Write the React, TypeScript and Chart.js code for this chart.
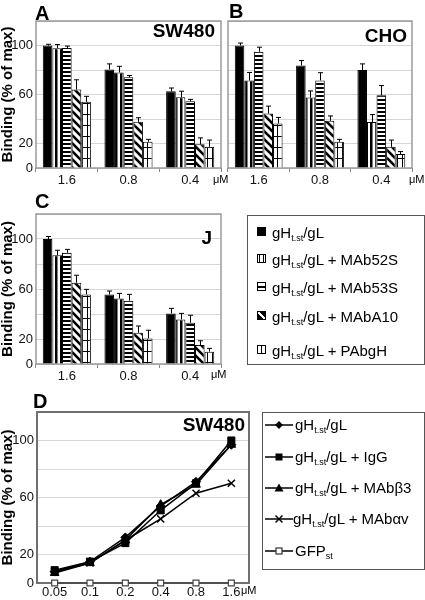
import React, { useEffect, useRef } from 'react';
import { Chart, registerables } from 'chart.js';

Chart.register(...registerables);

const FONT = "'Liberation Sans', Arial, Helvetica, sans-serif";
Chart.defaults.font.family = FONT;

// ---------- data ----------
const BAR_LABELS = ['1.6', '0.8', '0.4'];
const LINE_LABELS = ['0.05', '0.1', '0.2', '0.4', '0.8', '1.6'];
const Y_TICK_LABELS = [0, 20, 60, 100];

// Panel A – SW480
const A_GHGL = [100, 80.5, 62.6];
const A_MAB52S = [97.8, 78, 57.7];
const A_MAB53S = [98, 74, 54.5];
const A_MABA10 = [64, 37.7, 19.3];
const A_PABGH = [54, 21.4, 17.3];
const A_GHGL_ERR = [1, 4.5, 2.7];
const A_MAB52S_ERR = [3, 5, 5];
const A_MAB53S_ERR = [1.5, 1.5, 1.5];
const A_MABA10_ERR = [8, 3.3, 5.3];
const A_PABGH_ERR = [4.5, 2, 5.5];

// Panel B – CHO
const B_GHGL = [100, 83.7, 80];
const B_MAB52S = [71.5, 57.5, 37.6];
const B_MAB53S = [95, 71.5, 59.3];
const B_MABA10 = [44.5, 38.5, 17.3];
const B_PABGH = [36.3, 21.4, 11.4];
const B_GHGL_ERR = [2, 4, 5];
const B_MAB52S_ERR = [6.5, 5.4, 6];
const B_MAB53S_ERR = [3.6, 6.3, 8];
const B_MABA10_ERR = [6, 4, 5.5];
const B_PABGH_ERR = [5, 2, 2];

// Panel C – J
const C_GHGL = [100, 55.7, 40.5];
const C_MAB52S = [87, 52.5, 35.7];
const C_MAB53S = [89, 50.7, 33];
const C_MABA10 = [65, 25, 15.2];
const C_PABGH = [55.7, 20.5, 9.9];
const C_GHGL_ERR = [2, 2.7, 4];
const C_MAB52S_ERR = [4, 4, 4.8];
const C_MAB53S_ERR = [2.7, 5, 6];
const C_MABA10_ERR = [6, 5.4, 3.4];
const C_PABGH_ERR = [4, 6.5, 2.6];

// Panel D – SW480 dose response
const D_GHGL = [8, 15, 32, 54, 71, 97];
const D_IGG = [9, 15, 28, 51, 70, 100];
const D_MABB3 = [7, 14, 30, 55, 69, 97];
const D_MABAV = [8, 14, 30, 45, 63, 70];
const D_GFP = [0, 0, 0, 0, 0, 0];

const BAR_SUFFIX = ['', ' + MAb52S', ' + MAb53S', ' + MAbA10', ' + PAbgH'];
const BAR_KINDS = ['solid', 'vert', 'horiz', 'diag', 'grid'];
const LINE_SUFFIX = ['', ' + IgG', ' + MAbβ3', ' + MAbαv'];

// ---------- patterns ----------
function makePattern(kind: string): any {
  if (kind === 'solid') return '#000';
  const c = document.createElement('canvas');
  const x = c.getContext('2d')!;
  if (kind === 'vert') {
    c.width = 5; c.height = 5;
    x.fillStyle = '#fff'; x.fillRect(0, 0, 5, 5);
    x.fillStyle = '#000'; x.fillRect(0, 0, 2.5, 5);
  } else if (kind === 'horiz') {
    c.width = 4; c.height = 4;
    x.fillStyle = '#fff'; x.fillRect(0, 0, 4, 4);
    x.fillStyle = '#000'; x.fillRect(0, 0, 4, 2);
  } else if (kind === 'diag') {
    c.width = 8; c.height = 8;
    x.fillStyle = '#fff'; x.fillRect(0, 0, 8, 8);
    x.strokeStyle = '#000'; x.lineWidth = 2.6;
    for (let i = -1; i <= 1; i++) {
      x.beginPath(); x.moveTo(i * 8 - 1, -1); x.lineTo(i * 8 + 9, 9); x.stroke();
    }
  } else if (kind === 'grid') {
    c.width = 5; c.height = 11;
    x.fillStyle = '#fff'; x.fillRect(0, 0, 5, 11);
    x.fillStyle = '#000'; x.fillRect(2, 0, 1, 11); x.fillRect(0, 0, 5, 1);
  }
  return x.createPattern(c, 'repeat');
}

// ---------- plugins ----------
const framePlugin = {
  id: 'frame',
  beforeDatasetsDraw(chart: any, _a: any, opts: any) {
    const { left, top, right, bottom } = chart.chartArea;
    const ctx = chart.ctx;
    ctx.save();
    ctx.strokeStyle = opts.color || '#888';
    ctx.lineWidth = opts.width || 1.3;
    ctx.strokeRect(left, top, right - left, bottom - top);
    ctx.restore();
  },
};

const errorBarPlugin = {
  id: 'errorBars',
  afterDatasetsDraw(chart: any, _a: any, opts: any) {
    const errs = opts.errors;
    if (!errs) return;
    const ctx = chart.ctx;
    const ys = chart.scales.y;
    ctx.save();
    ctx.strokeStyle = '#000';
    ctx.lineWidth = 1;
    chart.data.datasets.forEach((ds: any, di: number) => {
      const meta = chart.getDatasetMeta(di);
      meta.data.forEach((bar: any, i: number) => {
        const e = errs[di][i];
        const top = ys.getPixelForValue(ds.data[i] + e);
        const x = Math.round(bar.x) + 0.5;
        ctx.beginPath();
        ctx.moveTo(x, bar.y);
        ctx.lineTo(x, top);
        ctx.moveTo(x - 2.5, top);
        ctx.lineTo(x + 2.5, top);
        ctx.stroke();
      });
    });
    ctx.restore();
  },
};

const tickFont = { size: 13, family: FONT };
const yTitle = {
  display: true,
  text: 'Binding (% of max)',
  font: { size: 15, weight: 'bold' as const, family: FONT, lineHeight: 1 },
  color: '#000',
  padding: 0,
};

const fixY = (w: number) => (s: any) => {
  s.width = w;
  s.paddingTop = 0;
  s.paddingBottom = 0;
};
const fixX = (h: number) => (s: any) => {
  s.height = h;
  s.paddingLeft = 0;
  s.paddingRight = 0;
};

function barConfig(series: number[][], errors: number[][], opts: { yw: number; xh: number; top: number; right: number; showY: boolean }) {
  return {
    type: 'bar' as const,
    data: {
      labels: BAR_LABELS,
      datasets: series.map((d, i) => ({
        label: 'gHt.st/gL' + BAR_SUFFIX[i],
        data: d,
        backgroundColor: makePattern(BAR_KINDS[i]),
        borderColor: '#000',
        borderWidth: 1,
        categoryPercentage: 0.78,
        barPercentage: 1,
      })),
    },
    options: {
      responsive: false,
      animation: false as const,
      layout: { padding: { top: opts.top, right: opts.right, left: 0, bottom: 0 } },
      plugins: {
        legend: { display: false },
        tooltip: { enabled: false },
        errorBars: { errors },
        frame: { color: '#8c8c8c', width: 1.3 },
      },
      scales: {
        x: {
          grid: { display: true, drawOnChartArea: false, tickLength: 4, offset: true, color: '#888' },
          border: { display: false },
          ticks: { font: tickFont, color: '#111', padding: 1 },
          afterFit: fixX(opts.xh),
        },
        y: {
          min: 0,
          max: 120,
          ticks: {
            display: opts.showY,
            stepSize: 20,
            font: tickFont,
            color: '#111',
            padding: 3,
            callback: (v: any) => (Y_TICK_LABELS.includes(v) ? String(v) : ''),
          },
          grid: { color: '#d6d6d6', tickLength: 0 },
          border: { display: false },
          title: opts.showY ? yTitle : { display: false },
          afterFit: fixY(opts.yw),
        },
      },
    },
    plugins: [framePlugin, errorBarPlugin],
  };
}

function lineConfig() {
  const mk = (label: string, data: number[], style: string, radius: number, fill: string, color: string, bw: number) => ({
    label,
    data,
    borderColor: color,
    backgroundColor: fill,
    pointBackgroundColor: fill,
    pointBorderColor: color,
    pointStyle: style,
    pointRadius: radius,
    pointBorderWidth: bw,
    borderWidth: 1.5,
    tension: 0,
    clip: false as const,
  });
  return {
    type: 'line' as const,
    data: {
      labels: LINE_LABELS,
      datasets: [
        mk('gHt.st/gL' + LINE_SUFFIX[0], D_GHGL, 'rectRot', 4.5, '#000', '#000', 1),
        mk('gHt.st/gL' + LINE_SUFFIX[1], D_IGG, 'rect', 5, '#000', '#000', 1),
        mk('gHt.st/gL' + LINE_SUFFIX[2], D_MABB3, 'triangle', 5, '#000', '#000', 1),
        mk('gHt.st/gL' + LINE_SUFFIX[3], D_MABAV, 'crossRot', 5, '#000', '#000', 1.5),
        mk('GFPst', D_GFP, 'rect', 4.2, '#fff', '#444', 1.2),
      ],
    },
    options: {
      responsive: false,
      animation: false as const,
      layout: { padding: { top: 7, right: 11, left: 0, bottom: 0 } },
      plugins: {
        legend: { display: false },
        tooltip: { enabled: false },
        frame: { color: '#707070', width: 2 },
      },
      scales: {
        x: {
          offset: true,
          grid: { display: false, drawTicks: false, tickLength: 0 },
          border: { display: false },
          ticks: { font: tickFont, color: '#111', padding: 2 },
          afterFit: fixX(17),
        },
        y: {
          min: 0,
          max: 120,
          ticks: {
            stepSize: 20,
            font: tickFont,
            color: '#111',
            padding: 3,
            callback: (v: any) => (Y_TICK_LABELS.includes(v) ? String(v) : ''),
          },
          grid: { color: '#d6d6d6', tickLength: 0 },
          border: { display: false },
          title: yTitle,
          afterFit: fixY(37),
        },
      },
    },
    plugins: [framePlugin],
  };
}

// ---------- components ----------
function ChartCanvas({ left, top, width, height, make }: { left: number; top: number; width: number; height: number; make: () => any }) {
  const ref = useRef<HTMLCanvasElement>(null);
  useEffect(() => {
    const chart = new Chart(ref.current!, make());
    return () => chart.destroy();
  }, []);
  return (
    <canvas
      ref={ref}
      width={width}
      height={height}
      style={{ position: 'absolute', left, top, width, height }}
    />
  );
}

function Txt({ left, top, right, size, bold, children }: any) {
  return (
    <div
      style={{
        position: 'absolute',
        left,
        top,
        right,
        fontSize: size,
        fontWeight: bold ? 'bold' : 'normal',
        lineHeight: 1,
        whiteSpace: 'nowrap',
        color: '#000',
      }}
    >
      {children}
    </div>
  );
}

const subStyle: React.CSSProperties = { fontSize: 9, verticalAlign: -3, lineHeight: 0 };

function swatchStyle(kind: string): React.CSSProperties {
  const base: React.CSSProperties = {
    position: 'absolute',
    width: 7,
    height: 7,
    border: '1px solid #000',
    background: '#fff',
  };
  if (kind === 'solid') base.background = '#000';
  if (kind === 'vert') base.background = 'repeating-linear-gradient(90deg, #fff 0 1px, #000 1px 2.5px, #fff 2.5px 3.5px)';
  if (kind === 'horiz') base.background = 'linear-gradient(180deg, #fff 0 3px, #000 3px 4.5px, #fff 4.5px 7px)';
  if (kind === 'diag') base.background = 'linear-gradient(45deg, #000 0 40%, #fff 40% 60%, #000 60% 100%)';
  if (kind === 'grid') base.background = 'linear-gradient(90deg, #fff 0 3px, #000 3px 4px, #fff 4px 7px)';
  return base;
}

const LEG_C_ROWS = [233, 260, 288, 317, 351];
const LEG_D_ROWS = [425, 457, 488, 519, 551];

function LineSymbol({ kind }: { kind: number }) {
  let marker: any = null;
  if (kind === 0) marker = <polygon points="15,2 19,6 15,10 11,6" fill="#000" />;
  if (kind === 1) marker = <rect x="11.5" y="2.5" width="7" height="7" fill="#000" />;
  if (kind === 2) marker = <polygon points="15,1.5 19.5,9.5 10.5,9.5" fill="#000" />;
  if (kind === 3)
    marker = (
      <g stroke="#000" strokeWidth="1.4">
        <line x1="11.5" y1="2.5" x2="18.5" y2="9.5" />
        <line x1="18.5" y1="2.5" x2="11.5" y2="9.5" />
      </g>
    );
  if (kind === 4) marker = <rect x="12" y="3" width="6" height="6" fill="#fff" stroke="#333" strokeWidth="1.2" />;
  return (
    <svg width="30" height="12" style={{ position: 'absolute', left: 0, top: -6 }}>
      <line x1="1" y1="6" x2="29" y2="6" stroke="#000" strokeWidth="1.5" />
      {marker}
    </svg>
  );
}

export default function App() {
  const aSeries = [A_GHGL, A_MAB52S, A_MAB53S, A_MABA10, A_PABGH];
  const aErr = [A_GHGL_ERR, A_MAB52S_ERR, A_MAB53S_ERR, A_MABA10_ERR, A_PABGH_ERR];
  const bSeries = [B_GHGL, B_MAB52S, B_MAB53S, B_MABA10, B_PABGH];
  const bErr = [B_GHGL_ERR, B_MAB52S_ERR, B_MAB53S_ERR, B_MABA10_ERR, B_PABGH_ERR];
  const cSeries = [C_GHGL, C_MAB52S, C_MAB53S, C_MABA10, C_PABGH];
  const cErr = [C_GHGL_ERR, C_MAB52S_ERR, C_MAB53S_ERR, C_MABA10_ERR, C_PABGH_ERR];

  return (
    <div
      style={{
        position: 'absolute',
        left: 0,
        top: 0,
        width: 425,
        height: 600,
        overflow: 'hidden',
        background: '#fff',
        fontFamily: FONT,
      }}
    >
      <ChartCanvas left={0} top={15} width={230} height={180}
        make={() => barConfig(aSeries, aErr, { yw: 36, xh: 27, top: 6, right: 9, showY: true })} />
      <ChartCanvas left={220} top={15} width={205} height={180}
        make={() => barConfig(bSeries, bErr, { yw: 8, xh: 27, top: 6, right: 13, showY: false })} />
      <ChartCanvas left={0} top={208} width={230} height={182}
        make={() => barConfig(cSeries, cErr, { yw: 36, xh: 26, top: 6, right: 9, showY: true })} />
      <ChartCanvas left={0} top={405} width={260} height={195} make={lineConfig} />

      {/* panel letters */}
      <Txt left={35} top={2.5} size={20} bold>A</Txt>
      <Txt left={229} top={0.5} size={20} bold>B</Txt>
      <Txt left={35} top={190.5} size={20} bold>C</Txt>
      <Txt left={33} top={390.5} size={20} bold>D</Txt>

      {/* in-plot titles */}
      <Txt right={425 - 215} top={20.5} size={19} bold>SW480</Txt>
      <Txt right={425 - 407} top={25.5} size={19} bold>CHO</Txt>
      <Txt right={425 - 212} top={227.5} size={19} bold>J</Txt>
      <Txt right={425 - 245} top={414.5} size={19} bold>SW480</Txt>

      {/* units */}
      <Txt left={213} top={174} size={11}>μM</Txt>
      <Txt left={409} top={174} size={11}>μM</Txt>
      <Txt left={211} top={369} size={11}>μM</Txt>
      <Txt left={241} top={585} size={11}>μM</Txt>

      {/* legend for A–C */}
      <div style={{ position: 'absolute', left: 247, top: 215, width: 176, height: 148, border: '1px solid #555' }} />
      {LEG_C_ROWS.map((cy, i) => (
        <React.Fragment key={'c' + i}>
          <div style={{ ...swatchStyle(BAR_KINDS[i]), left: 257, top: cy - 6 }} />
          <div style={{ position: 'absolute', left: 272, top: cy - 9, fontSize: 15, lineHeight: '18px', whiteSpace: 'nowrap', color: '#000' }}>
            gH<sub style={subStyle}>t.st</sub>/gL{BAR_SUFFIX[i]}
          </div>
        </React.Fragment>
      ))}

      {/* legend for D */}
      <div style={{ position: 'absolute', left: 262, top: 412, width: 161, height: 156, border: '1px solid #555' }} />
      {LEG_D_ROWS.map((cy, i) => (
        <React.Fragment key={'d' + i}>
          <div style={{ position: 'absolute', left: 264, top: cy }}>
            <LineSymbol kind={i} />
          </div>
          <div style={{ position: 'absolute', left: i === 3 ? 293 : 295, top: cy - 9, fontSize: 15, lineHeight: '18px', whiteSpace: 'nowrap', color: '#000' }}>
            {i < 4 ? (
              <>gH<sub style={subStyle}>t.st</sub>/gL{LINE_SUFFIX[i]}</>
            ) : (
              <>GFP<sub style={subStyle}>st</sub></>
            )}
          </div>
        </React.Fragment>
      ))}
    </div>
  );
}
